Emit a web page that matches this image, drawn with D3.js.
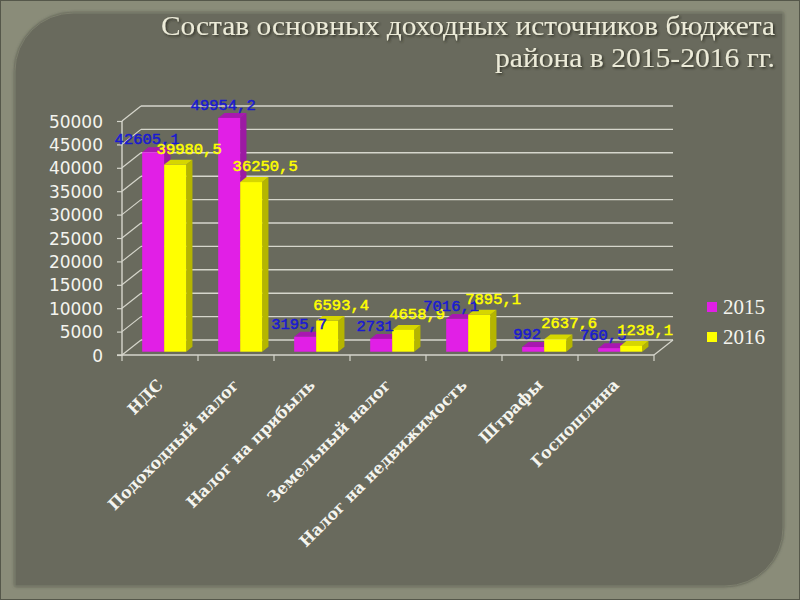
<!DOCTYPE html>
<html><head><meta charset="utf-8">
<script src="https://cdn.jsdelivr.net/npm/d3@7"></script>
<style>html,body{margin:0;padding:0;background:#8a8c79;}svg{display:block;}</style>
</head><body>
<script>
const categories = ["НДС","Подоходный налог","Налог на прибыль","Земельный налог","Налог на недвижимость","Штрафы","Госпошлина"];
const values2015 = [42605.1, 49954.2, 3195.7, 2731, 7016.1, 992, 760.5];
const values2016 = [39980.5, 36250.5, 6593.4, 4658.9, 7895.1, 2637.6, 1238.1];
const labels2015 = ["42605,1","49954,2","3195,7","2731","7016,1","992","760,5"];
const labels2016 = ["39980,5","36250,5","6593,4","4658,9","7895,1","2637,6","1238,1"];
const seriesNames = ["2015","2016"];
const yTicks = [0,5000,10000,15000,20000,25000,30000,35000,40000,45000,50000];
const titleLines = ["Состав основных доходных источников бюджета","района в 2015-2016 гг."];

const W=800,H=600;
const svg=d3.select("body").append("svg").attr("width",W).attr("height",H);
const defs=svg.append("defs");
const f=defs.append("filter").attr("id","sh").attr("x","-10%").attr("y","-30%").attr("width","120%").attr("height","160%");
f.append("feDropShadow").attr("dx",1.5).attr("dy",1.5).attr("stdDeviation",1).attr("flood-color","#2a2b22").attr("flood-opacity",0.85);
const f2=defs.append("filter").attr("id","psh").attr("x","-5%").attr("y","-5%").attr("width","110%").attr("height","110%");
f2.append("feDropShadow").attr("dx",0).attr("dy",0).attr("stdDeviation",1.5).attr("flood-color","#4a4b40").attr("flood-opacity",0.9);

// background
svg.append("rect").attr("width",W).attr("height",H).attr("fill","#8a8c79");
svg.append("rect").attr("x",0.5).attr("y",0.5).attr("width",W-1).attr("height",H-1).attr("fill","none").attr("stroke","#55574a").attr("stroke-width",1);
const px0=15,py0=13,px1=783,py1=586,R=58;
const p=d3.path();
p.moveTo(px0+R,py0);p.lineTo(px1,py0);p.lineTo(px1,py1-R);
p.arcTo(px1,py1,px1-R,py1,R);p.lineTo(px0,py1);p.lineTo(px0,py0+R);p.arcTo(px0,py0,px0+R,py0,R);p.closePath();
svg.append("path").attr("d",p.toString()).attr("fill","#696a5d").attr("stroke","#7d7f6e").attr("stroke-width",1).attr("filter","url(#psh)");

// title
const tg=svg.append("g").attr("filter","url(#sh)").attr("font-family","'Liberation Serif', 'DejaVu Serif', serif").attr("fill","#ecebd8");
tg.append("text").attr("x",775).attr("y",35).attr("text-anchor","end").attr("font-size",28)
  .attr("textLength",614).attr("lengthAdjust","spacingAndGlyphs").text(titleLines[0]);
tg.append("text").attr("x",775).attr("y",67).attr("text-anchor","end").attr("font-size",28)
  .attr("textLength",280).attr("lengthAdjust","spacingAndGlyphs").text(titleLines[1]);

// scales
const x=d3.scaleBand().domain(categories).range([122,654]).paddingInner(0).paddingOuter(0);
const y=d3.scaleLinear().domain([0,50000]).range([355,121]);
const DX=19,DY=-15;
const gridCol="#d6d6cc";

const g=svg.append("g");
yTicks.forEach(v=>{
  const yy=y(v);
  g.append("line").attr("x1",122+DX).attr("y1",yy+DY).attr("x2",654+DX).attr("y2",yy+DY).attr("stroke",gridCol).attr("stroke-width",1.4);
  g.append("line").attr("x1",122).attr("y1",yy).attr("x2",122+DX).attr("y2",yy+DY).attr("stroke",gridCol).attr("stroke-width",1.2);
});
g.append("line").attr("x1",654).attr("y1",y(0)).attr("x2",654+DX).attr("y2",y(0)+DY).attr("stroke",gridCol).attr("stroke-width",1.2);

// y axis (front)
const yAxis=d3.axisLeft(y).tickValues(yTicks).tickSize(5).tickPadding(14).tickFormat(d3.format("d"));
const ya=svg.append("g").attr("transform","translate(122,0)").call(yAxis);
ya.select(".domain").attr("stroke",gridCol).attr("stroke-width",1.4).attr("d","M-5,"+y(0)+"H0V"+y(50000));
ya.selectAll(".tick line").attr("stroke",gridCol).attr("stroke-width",1.2);
ya.selectAll(".tick text").attr("fill","#f4f4ee").attr("font-family","'DejaVu Sans', sans-serif").attr("font-size",17).attr("dy","0.36em");

// x axis (front floor edge)
const xa=svg.append("g").attr("transform","translate(0,"+y(0)+")");
xa.append("line").attr("x1",122).attr("x2",654).attr("y1",0).attr("y2",0).attr("stroke",gridCol).attr("stroke-width",1.4);
const bounds=categories.map(c=>x(c)).concat([x(categories[categories.length-1])+x.bandwidth()]);
bounds.forEach(b=>{xa.append("line").attr("x1",b).attr("x2",b).attr("y1",0).attr("y2",6).attr("stroke",gridCol).attr("stroke-width",1.2);});

// bars
const f0=0.22,f1=0.55;
const bw=22;
const cols=[{front:"#e11fe6",side:"#9c1aa3",top:"#a818b0"},{front:"#ffff00",side:"#b5b500",top:"#d6d600"}];
const bars=svg.append("g");
function bar(xl,v,c){
  const ox=f0*DX, oy=f0*DY, dx=(f1-f0)*DX, dy=(f1-f0)*DY;
  const x0=xl+ox, x1=x0+bw, yb=y(0)+oy, yt=y(v)+oy;
  bars.append("path").attr("d",`M${x1},${yb}L${x1+dx},${yb+dy}L${x1+dx},${yt+dy}L${x1},${yt}Z`).attr("fill",c.side);
  bars.append("path").attr("d",`M${x0},${yt}L${x0+dx},${yt+dy}L${x1+dx},${yt+dy}L${x1},${yt}Z`).attr("fill",c.top);
  bars.append("rect").attr("x",x0).attr("y",yt).attr("width",bw).attr("height",yb-yt).attr("fill",c.front);
  return {cx:x0+bw/2, top:yt};
}
const lab=svg.append("g").attr("font-family","'Liberation Mono', 'DejaVu Sans Mono', monospace").attr("font-size",15.5).attr("text-anchor","middle").attr("stroke-width",0.5);
categories.forEach((c,i)=>{
  const cx=x(c)+x.bandwidth()/2;
  const a=bar(cx-bw,values2015[i],cols[0]);
  const b=bar(cx,values2016[i],cols[1]);
  lab.append("text").attr("x",a.cx-6).attr("y",a.top-8).attr("fill","#1a1ad2").attr("stroke","#1a1ad2").text(labels2015[i]);
  lab.append("text").attr("x",b.cx+14).attr("y",b.top-11).attr("fill","#ffff00").attr("stroke","#ffff00").text(labels2016[i]);
});
lab.raise();

// x labels
const xl=svg.append("g").attr("font-family","'DejaVu Serif', serif").attr("font-weight","bold").attr("font-size",16).attr("fill","#f4f4ee");
categories.forEach(c=>{
  const cx=x(c)+x.bandwidth()/2;
  xl.append("text").attr("text-anchor","end").attr("transform",`translate(${cx+4},${y(0)+31}) rotate(-45)`).text(c);
});

// legend
const lg=svg.append("g").attr("font-family","'Liberation Serif', serif").attr("font-size",21).attr("fill","#f4f4ee");
seriesNames.forEach((s,i)=>{
  lg.append("rect").attr("x",707).attr("y",302+i*30).attr("width",10).attr("height",10).attr("fill",cols[i].front);
  lg.append("text").attr("x",723).attr("y",314+i*30).text(s);
});
</script>
</body></html>
